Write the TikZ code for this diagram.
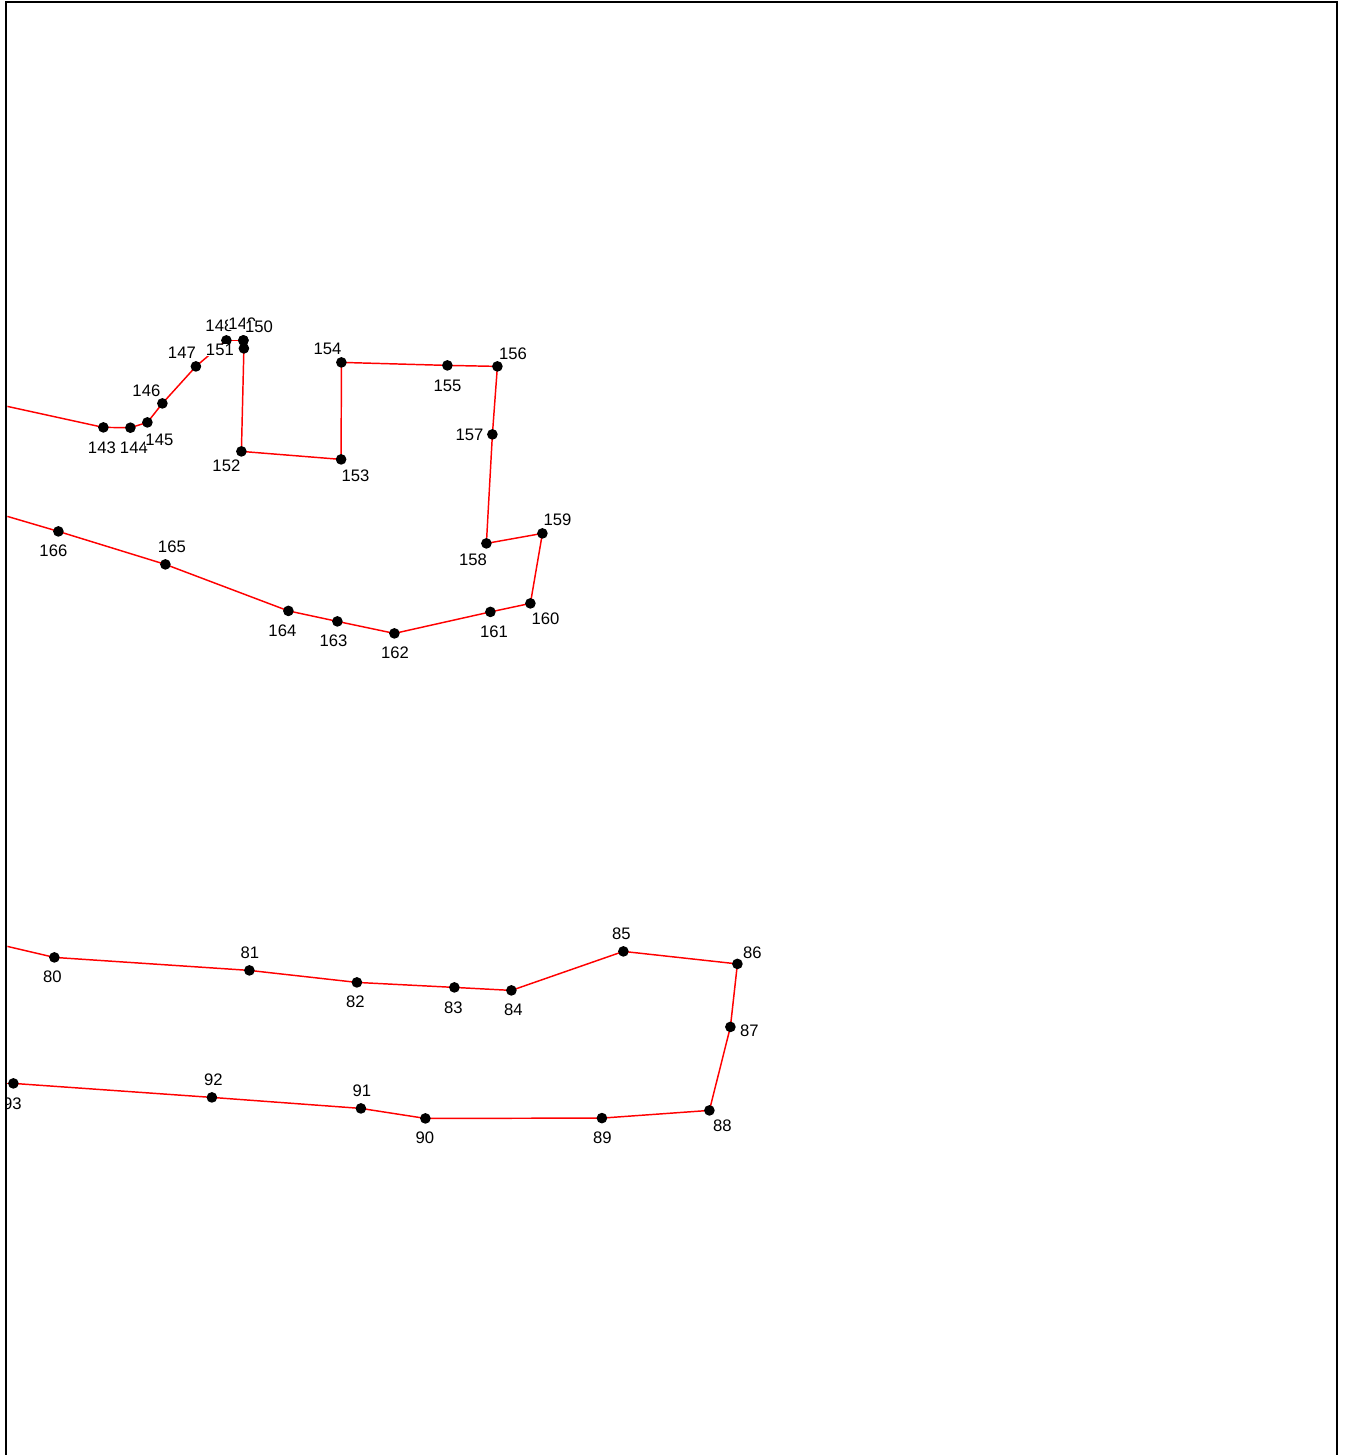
\documentclass[tikz,border=0pt]{standalone}
\usepackage{fontspec}
\setmainfont{Liberation Sans}
\usetikzlibrary{calc}
\usetikzlibrary{positioning}
\tikzset{
    edge/.style={red,line width=1.1pt},
    lab/.style={fill=white,inner sep=0pt,yshift=0.4pt,font=\fontsize{12.5}{14}\selectfont},
    frame/.style={black,line width=1.7pt}
}

\begin{document}
\begin{tikzpicture}[x=0.75pt,y=-0.75pt]
            \useasboundingbox (0,0) rectangle (1346,1455);

            \begin{scope}[shift={(0.4,0.4)}]
            \coordinate (e1) at (7,406);
            \coordinate (v143) at (103,427);
            \coordinate (v144) at (130,427.3);
            \coordinate (v145) at (147,422);
            \coordinate (v146) at (162,403);
            \coordinate (v147) at (195.5,366);
            \coordinate (v148) at (226,340);
            \coordinate (v149) at (243,340);
            \coordinate (v150) at (243,340);
            \coordinate (v151) at (243.5,348);
            \coordinate (v152) at (241,451);
            \coordinate (v153) at (340.7,459);
            \coordinate (v154) at (341,362);
            \coordinate (v155) at (447,365);
            \coordinate (v156) at (497,366);
            \coordinate (v157) at (492,434);
            \coordinate (v158) at (486,543);
            \coordinate (v159) at (542,533);
            \coordinate (v160) at (530,603);
            \coordinate (v161) at (490,611.5);
            \coordinate (v162) at (394,633);
            \coordinate (v163) at (337,621);
            \coordinate (v164) at (288,610.5);
            \coordinate (v165) at (165,564);
            \coordinate (v166) at (58,531);
            \coordinate (e2) at (7,516);

            \coordinate (e3) at (7,946);
            \coordinate (v80) at (54,957);
            \coordinate (v81) at (249,970);
            \coordinate (v82) at (356.5,982);
            \coordinate (v83) at (454,987);
            \coordinate (v84) at (511,990);
            \coordinate (v85) at (623,951);
            \coordinate (v86) at (737,963.5);
            \coordinate (v87) at (730,1026.5);
            \coordinate (v88) at (709,1110);
            \coordinate (v89) at (601.5,1117.7);
            \coordinate (v90) at (425,1118);
            \coordinate (v91) at (360.5,1108);
            \coordinate (v92) at (211.5,1097);
            \coordinate (v93) at (13,1083);
            \coordinate (e4) at (7,1083);

            \clip (6.6,0) rectangle (1336,1455);

            \draw[edge] (e1)--(v143);
            \draw[edge] (v143)--(v144);
            \draw[edge] (v144)--(v145);
            \draw[edge] (v145)--(v146);
            \draw[edge] (v146)--(v147);
            \draw[edge] (v147)--(v148);
            \draw[edge] (v148)--(v149);
            \draw[edge] (v149)--(v150);
            \draw[edge] (v150)--(v151);
            \draw[edge] (v151)--(v152);
            \draw[edge] (v152)--(v153);
            \draw[edge] (v153)--(v154);
            \draw[edge] (v154)--(v155);
            \draw[edge] (v155)--(v156);
            \draw[edge] (v156)--(v157);
            \draw[edge] (v157)--(v158);
            \draw[edge] (v158)--(v159);
            \draw[edge] (v159)--(v160);
            \draw[edge] (v160)--(v161);
            \draw[edge] (v161)--(v162);
            \draw[edge] (v162)--(v163);
            \draw[edge] (v163)--(v164);
            \draw[edge] (v164)--(v165);
            \draw[edge] (v165)--(v166);
            \draw[edge] (v166)--(e2);

            \draw[edge] (e3)--(v80);
            \draw[edge] (v80)--(v81);
            \draw[edge] (v81)--(v82);
            \draw[edge] (v82)--(v83);
            \draw[edge] (v83)--(v84);
            \draw[edge] (v84)--(v85);
            \draw[edge] (v85)--(v86);
            \draw[edge] (v86)--(v87);
            \draw[edge] (v87)--(v88);
            \draw[edge] (v88)--(v89);
            \draw[edge] (v89)--(v90);
            \draw[edge] (v90)--(v91);
            \draw[edge] (v91)--(v92);
            \draw[edge] (v92)--(v93);
            \draw[edge] (v93)--(e4);

            \fill (v143) circle (4pt);
            \fill (v144) circle (4pt);
            \fill (v145) circle (4pt);
            \fill (v146) circle (4pt);
            \fill (v147) circle (4pt);
            \fill (v148) circle (4pt);
            \fill (v149) circle (4pt);
            \fill (v150) circle (4pt);
            \fill (v151) circle (4pt);
            \fill (v152) circle (4pt);
            \fill (v153) circle (4pt);
            \fill (v154) circle (4pt);
            \fill (v155) circle (4pt);
            \fill (v156) circle (4pt);
            \fill (v157) circle (4pt);
            \fill (v158) circle (4pt);
            \fill (v159) circle (4pt);
            \fill (v160) circle (4pt);
            \fill (v161) circle (4pt);
            \fill (v162) circle (4pt);
            \fill (v163) circle (4pt);
            \fill (v164) circle (4pt);
            \fill (v165) circle (4pt);
            \fill (v166) circle (4pt);
            \fill (v80) circle (4pt);
            \fill (v81) circle (4pt);
            \fill (v82) circle (4pt);
            \fill (v83) circle (4pt);
            \fill (v84) circle (4pt);
            \fill (v85) circle (4pt);
            \fill (v86) circle (4pt);
            \fill (v87) circle (4pt);
            \fill (v88) circle (4pt);
            \fill (v89) circle (4pt);
            \fill (v90) circle (4pt);
            \fill (v91) circle (4pt);
            \fill (v92) circle (4pt);
            \fill (v93) circle (4pt);

            \node[lab] (t143) at (101.5,448) {143};
            \node[lab] (t144) at (133.5,448) {144};
            \node[lab] (t145) at (159,440) {145};
            \node[lab] (t146) at (146,391) {146};
            \node[lab] (t147) at (181.5,353) {147};
            \node[lab] (t148) at (219,326) {148};
            \node[lab] (t149) at (242,324) {149};
            \node[lab] (t150) at (258.5,327) {150};
            \node[lab] (t151) at (219.5,350) {151};
            \node[lab] (t152) at (226,466) {152};
            \node[lab] (t153) at (355,476) {153};
            \node[lab] (t154) at (327,349) {154};
            \node[lab] (t155) at (447,386) {155};
            \node[lab] (t156) at (512.5,354) {156};
            \node[lab] (t157) at (469,435) {157};
            \node[lab] (t158) at (472.5,560) {158};
            \node[lab] (t159) at (557,520) {159};
            \node[lab] (t160) at (545,619) {160};
            \node[lab] (t161) at (493.5,632) {161};
            \node[lab] (t162) at (394.5,653) {162};
            \node[lab] (t163) at (333,641) {163};
            \node[lab] (t164) at (282,631) {164};
            \node[lab] (t165) at (171.5,547) {165};
            \node[lab] (t166) at (53,551) {166};

            \node[lab] (t80) at (52,977) {80};
            \node[lab] (t81) at (249.5,953) {81};
            \node[lab] (t82) at (355,1002) {82};
            \node[lab] (t83) at (453,1008) {83};
            \node[lab] (t84) at (513,1010) {84};
            \node[lab] (t85) at (621,934) {85};
            \node[lab] (t86) at (752,953) {86};
            \node[lab] (t87) at (749,1031) {87};
            \node[lab] (t88) at (722,1126) {88};
            \node[lab] (t89) at (602,1138) {89};
            \node[lab] (t90) at (424.5,1138) {90};
            \node[lab] (t91) at (361.5,1091) {91};
            \node[lab] (t92) at (213,1080) {92};
            \node[lab] (t93) at (12,1104) {93};
            \end{scope}

            \coordinate (c1) at (6.2,1455);
            \coordinate (c2) at (6.2,2);
            \coordinate (c3) at (1337.2,2);
            \coordinate (c4) at (1337.2,1455);
            \draw[frame] (c1)--(c2)--(c3)--(c4);
        \end{tikzpicture}
\end{document}
